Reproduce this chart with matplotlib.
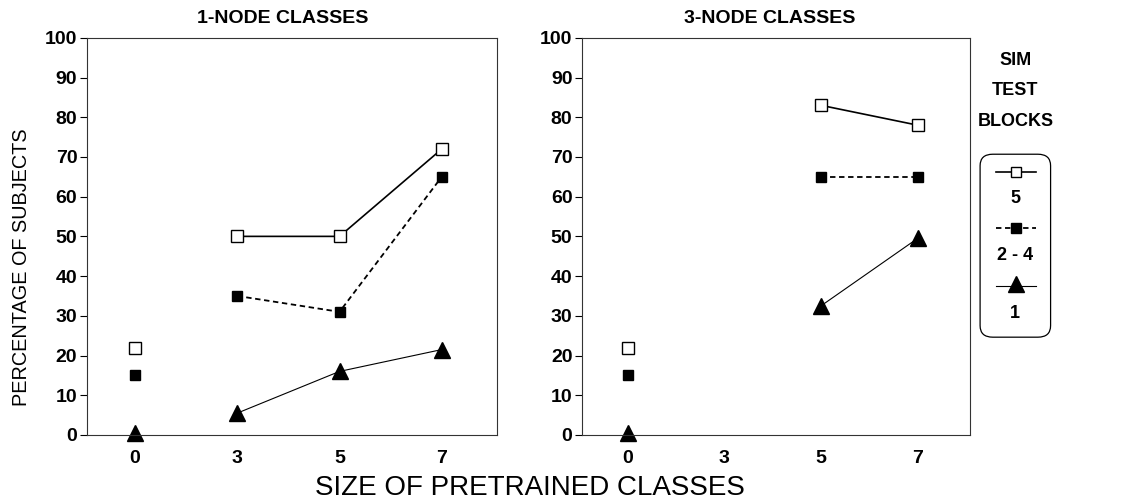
import matplotlib
matplotlib.use('Agg')
import matplotlib.pyplot as plt
from matplotlib.patches import FancyBboxPatch
import numpy as np

plt.rcParams['font.family'] = ['Liberation Sans', 'DejaVu Sans']

# category labels on the x axis (evenly spaced)
sizes = ['0', '3', '5', '7']
xpos = np.arange(len(sizes))

# 1-node classes
one_b5 = [22, 50, 50, 72]
one_b24 = [15, 35, 31, 65]
one_b1 = [0.5, 5.5, 16, 21.5]

# 3-node classes (no data at size 3)
three_b5 = [22, np.nan, 83, 78]
three_b24 = [15, np.nan, 65, 65]
three_b1 = [0.5, np.nan, 32.5, 49.5]

DASH = (0, (3, 2))

fig = plt.figure(figsize=(11.37, 5.04), dpi=100)
ax1 = fig.add_axes([0.0765, 0.137, 0.3606, 0.788])
ax2 = fig.add_axes([0.512, 0.137, 0.341, 0.788])


def draw_panel(ax, b5, b24, b1, title, tx):
    # the size-0 points are baseline dots, not joined to the rest
    ax.plot(xpos[1:], b5[1:], '-', color='black', lw=1.2, marker='s',
            mfc='white', mec='black', ms=8, mew=1.0, zorder=3)
    ax.plot(xpos[1:], b24[1:], linestyle=DASH, color='black', lw=1.3,
            marker='s', mfc='black', mec='black', ms=7, zorder=3)
    ax.plot(xpos[1:], b1[1:], '-', color='black', lw=0.8, marker='^',
            mfc='black', mec='black', ms=11, zorder=3)
    ax.plot(xpos[0], b5[0], 's', mfc='white', mec='black', ms=8, mew=1.0)
    ax.plot(xpos[0], b24[0], 's', color='black', ms=7)
    ax.plot(xpos[0], b1[0], '^', color='black', ms=11, clip_on=False)

    ax.set_xlim(-0.47, 3.54)
    ax.set_ylim(0, 100)
    ax.set_yticks(range(0, 101, 10))
    ax.set_xticks(xpos)
    ax.set_xticklabels(sizes)
    ax.tick_params(axis='y', direction='out', length=5, width=0.8,
                   labelsize=14, pad=2)
    ax.tick_params(axis='x', length=0, labelsize=14, pad=11)
    for lab in ax.get_xticklabels() + ax.get_yticklabels():
        lab.set_fontweight('bold')
    for sp in ax.spines.values():
        sp.set_linewidth(0.8)
        sp.set_color('#333333')
    ax.set_title(title, fontsize=14, fontweight='bold', pad=11, x=tx)


draw_panel(ax1, one_b5, one_b24, one_b1, '1-NODE CLASSES', 0.478)
draw_panel(ax2, three_b5, three_b24, three_b1, '3-NODE CLASSES', 0.485)

fig.text(0.466, 0.032, 'SIZE OF PRETRAINED CLASSES', ha='center',
         va='center', fontsize=20)
fig.text(0.019, 0.47, 'PERCENTAGE OF SUBJECTS', ha='center', va='center',
         rotation=90, fontsize=14.3)

# legend, drawn by hand: symbol above its label
fig.text(0.893, 0.88, 'SIM', ha='center', va='center', fontsize=13,
         fontweight='bold')
fig.text(0.893, 0.821, 'TEST', ha='center', va='center', fontsize=13,
         fontweight='bold')
fig.text(0.893, 0.758, 'BLOCKS', ha='center', va='center', fontsize=13,
         fontweight='bold')

lg = fig.add_axes([0.862, 0.331, 0.062, 0.363])
lg.set_xlim(0, 1)
lg.set_ylim(0, 1)
lg.axis('off')
lg.add_patch(FancyBboxPatch((0.0, 0.0), 1.0, 1.0,
                            boxstyle='round,pad=0,rounding_size=0.18',
                            mutation_aspect=0.35,
                            fc='white', ec='black', lw=0.9,
                            transform=lg.transAxes, clip_on=False))
lg.plot([0.22, 0.80], [0.905, 0.905], '-', color='black', lw=1.2)
lg.plot([0.51], [0.905], 's', mfc='white', mec='black', ms=7)
lg.text(0.5, 0.76, '5', ha='center', va='center', fontsize=13,
        fontweight='bold')
lg.plot([0.22, 0.80], [0.595, 0.595], linestyle=DASH, color='black', lw=1.3)
lg.plot([0.51], [0.595], 's', color='black', ms=7)
lg.text(0.5, 0.445, '2 - 4', ha='center', va='center', fontsize=13,
        fontweight='bold')
lg.plot([0.22, 0.80], [0.28, 0.28], '-', color='black', lw=0.8)
lg.plot([0.51], [0.29], '^', color='black', ms=11)
lg.text(0.5, 0.13, '1', ha='center', va='center', fontsize=13,
        fontweight='bold')

fig.savefig('out.png', dpi=100)
